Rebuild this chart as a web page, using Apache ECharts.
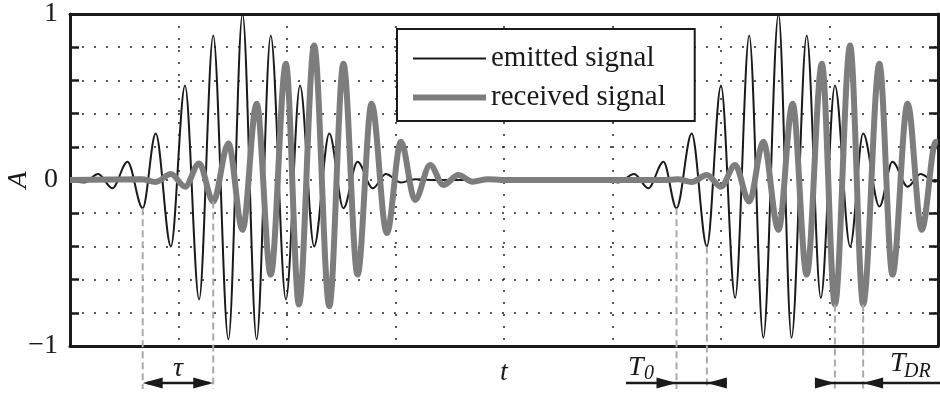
<!DOCTYPE html>
<html>
<head>
<meta charset="utf-8">
<script src="https://cdn.jsdelivr.net/npm/echarts@6/dist/echarts.min.js"></script>
<style>
  html, body { margin: 0; background: #fff; }
  #chart { width: 940px; height: 396px; }
</style>
</head>
<body>
<div id="chart"></div>
<script>
// Extrema of the two bursts: [t, A]
const emitted = [
  [0.00, 0], [0.13, -0.015], [0.26, 0.036], [0.39, -0.05], [0.53, 0.11], [0.67, -0.17],
  [0.79, 0.28], [0.93, -0.40], [1.06, 0.57], [1.19, -0.72], [1.32, 0.87], [1.46, -0.96],
  [1.59, 1.00], [1.72, -0.96], [1.85, 0.87], [1.99, -0.72], [2.12, 0.57], [2.25, -0.40],
  [2.39, 0.28], [2.52, -0.17], [2.65, 0.11], [2.79, -0.05], [2.91, 0.036], [3.05, -0.015],
  [3.18, 0.005], [3.32, 0],
  [4.80, 0], [4.92, 0.005], [5.05, -0.015], [5.20, 0.036], [5.33, -0.05], [5.47, 0.11],
  [5.59, -0.17], [5.73, 0.28], [5.87, -0.40], [6.00, 0.57], [6.13, -0.71], [6.26, 0.87],
  [6.39, -0.95], [6.53, 1.00], [6.65, -0.95], [6.79, 0.87], [6.92, -0.71], [7.05, 0.57],
  [7.19, -0.40], [7.31, 0.28], [7.46, -0.16], [7.58, 0.11], [7.72, -0.04], [7.84, 0.036],
  [7.97, -0.01], [8.00, 0]
];
const received = [
  [0.00, 0], [0.66, 0.004], [0.79, -0.012], [0.93, 0.036], [1.06, -0.04], [1.19, 0.10],
  [1.32, -0.13], [1.46, 0.22], [1.59, -0.30], [1.72, 0.46], [1.85, -0.57], [1.99, 0.70],
  [2.11, -0.75], [2.25, 0.81], [2.39, -0.76], [2.52, 0.70], [2.65, -0.57], [2.78, 0.46],
  [2.92, -0.32], [3.05, 0.23], [3.18, -0.12], [3.32, 0.09], [3.44, -0.03], [3.58, 0.03],
  [3.71, -0.01], [3.85, 0.005], [3.98, 0],
  [5.47, 0], [5.60, 0.004], [5.73, -0.012], [5.87, 0.03], [6.00, -0.04], [6.13, 0.09],
  [6.26, -0.13], [6.39, 0.23], [6.53, -0.30], [6.66, 0.46], [6.79, -0.57], [6.93, 0.70],
  [7.05, -0.75], [7.19, 0.81], [7.31, -0.75], [7.46, 0.70], [7.58, -0.57], [7.72, 0.46],
  [7.85, -0.30], [7.98, 0.23], [8.00, 0.23]
];

// points the dashed guide lines drop from
const tauPoints = [[0.67, -0.17], [1.32, -0.13]];
const t0Points = [[5.59, -0.17], [5.87, -0.40]];
const tdrPoints = [[7.05, -0.75], [7.31, -0.75]];

const yLabels = { '-1': '\u22121', '0': '0', '1': '1' };

const serif = 'Liberation Serif';
const ink = '#1a1a1a';
const grey = '#7d7d7d';

const chart = echarts.init(document.getElementById('chart'));

const dotted = { color: '#222', width: 1.5, type: [2, 10] };
const frame = { show: true, onZero: false, lineStyle: { color: ink, width: 3 } };
// hide the marker legend draws for line series, keep the line
const noMarker = { color: 'rgba(0,0,0,0)', borderColor: 'rgba(0,0,0,0)', borderWidth: 0, opacity: 0 };

chart.setOption({
  animation: false,
  backgroundColor: '#fff',
  textStyle: { fontFamily: serif },
  grid: { left: 70, right: 2, top: 14, bottom: 50, outerBoundsMode: 'none', containLabel: false },
  legend: {
    left: 397,
    top: 29,
    orient: 'vertical',
    padding: [15, 29, 9, 13],
    itemGap: 10,
    itemWidth: 73,
    itemHeight: 14,
    backgroundColor: '#fff',
    borderColor: ink,
    borderWidth: 2,
    textStyle: { fontFamily: serif, fontSize: 29, color: ink },
    data: [
      { name: 'emitted signal', lineStyle: { width: 2, opacity: 1 }, itemStyle: noMarker },
      { name: 'received signal', lineStyle: { width: 6, opacity: 1 }, itemStyle: noMarker }
    ]
  },
  xAxis: [
    {
      type: 'value', min: 0, max: 8, interval: 1,
      name: 't', nameLocation: 'middle', nameGap: 13, nameMoveOverlap: false,
      nameTextStyle: { fontFamily: serif, fontStyle: 'italic', fontSize: 28, color: ink },
      axisLine: frame,
      axisTick: { show: false },
      axisLabel: { show: false },
      splitLine: { show: true, lineStyle: dotted }
    },
    {
      type: 'value', min: 0, max: 8, interval: 1, position: 'top',
      axisLine: frame,
      axisTick: { show: false },
      axisLabel: { show: false },
      splitLine: { show: false }
    }
  ],
  yAxis: [
    {
      type: 'value', min: -1, max: 1, interval: 0.2,
      name: 'A', nameLocation: 'middle', nameGap: 37, nameRotate: 90, nameMoveOverlap: false,
      nameTextStyle: { fontFamily: serif, fontStyle: 'italic', fontSize: 28, color: ink },
      axisLine: frame,
      axisTick: { show: true, inside: true, length: 9, lineStyle: { color: ink, width: 2.5 } },
      axisLabel: {
        margin: 12, fontFamily: serif, fontSize: 28, color: ink,
        formatter: (v) => yLabels[String(Math.round(v * 10) / 10)] || ''
      },
      splitLine: { show: true, lineStyle: dotted }
    },
    {
      type: 'value', min: -1, max: 1, interval: 0.2, position: 'right',
      axisLine: frame,
      axisTick: { show: true, inside: true, length: 9, lineStyle: { color: ink, width: 2.5 } },
      axisLabel: { show: false },
      splitLine: { show: false }
    }
  ],
  series: [
    {
      name: 'emitted signal', type: 'line', data: emitted,
      symbol: 'none', smooth: 0.34, smoothMonotone: 'x',
      lineStyle: { color: ink, width: 2 }, itemStyle: { color: ink }
    },
    {
      name: 'received signal', type: 'line', data: received,
      symbol: 'none', smooth: 0.34, smoothMonotone: 'x',
      lineStyle: { color: grey, width: 6 }, itemStyle: { color: grey }
    }
  ]
});

// annotations below the axis: dashed drops, arrows and labels
const toPx = (p) => chart.convertToPixel({ xAxisIndex: 0, yAxisIndex: 0 }, p);
const arrowY = 383;
const dropEnd = 389;
const headLen = 20;
const headHalf = 5.5;

function drop(p) {
  const [x, y] = toPx(p);
  return {
    type: 'line', silent: true, z: 5,
    shape: { x1: x, y1: y, x2: x, y2: dropEnd },
    style: { stroke: '#aaa', lineWidth: 2, lineDash: [7, 4] }
  };
}
function shaft(x1, x2) {
  return {
    type: 'line', silent: true, z: 6,
    shape: { x1: x1, y1: arrowY, x2: x2, y2: arrowY },
    style: { stroke: ink, lineWidth: 2.5 }
  };
}
function head(tip, dir) {
  return {
    type: 'polygon', silent: true, z: 7,
    shape: { points: [[tip, arrowY], [tip - dir * headLen, arrowY - headHalf], [tip - dir * headLen, arrowY + headHalf]] },
    style: { fill: ink }
  };
}
function label(text, x, y, size, align) {
  return {
    type: 'text', silent: true, z: 8, x: x, y: y,
    style: {
      text: text, fill: ink, font: 'italic ' + size + 'px "' + serif + '"',
      align: align || 'left', verticalAlign: 'middle'
    }
  };
}

const tauX = tauPoints.map((p) => toPx(p)[0]);
const t0X = t0Points.map((p) => toPx(p)[0]);
const tdrX = tdrPoints.map((p) => toPx(p)[0]);

const graphics = [
  ...tauPoints.map(drop), ...t0Points.map(drop), ...tdrPoints.map(drop),
  // tau: outward heads
  shaft(tauX[0] + 4, tauX[1] - 4), head(tauX[0], -1), head(tauX[1], 1),
  label('\u03c4', (tauX[0] + tauX[1]) / 2, 369, 28, 'center'),
  // T0: inward heads, tail under the label
  shaft(626, t0X[1] + headLen), head(t0X[0], 1), head(t0X[1], -1),
  label('T', 628, 368, 28), label('0', 644, 374, 20),
  // T_DR
  shaft(tdrX[0] - headLen, 940), head(tdrX[0], 1), head(tdrX[1], -1),
  label('T', 890, 364, 28), label('DR', 904, 372, 20)
];
chart.setOption({ graphic: graphics });
</script>
</body>
</html>
